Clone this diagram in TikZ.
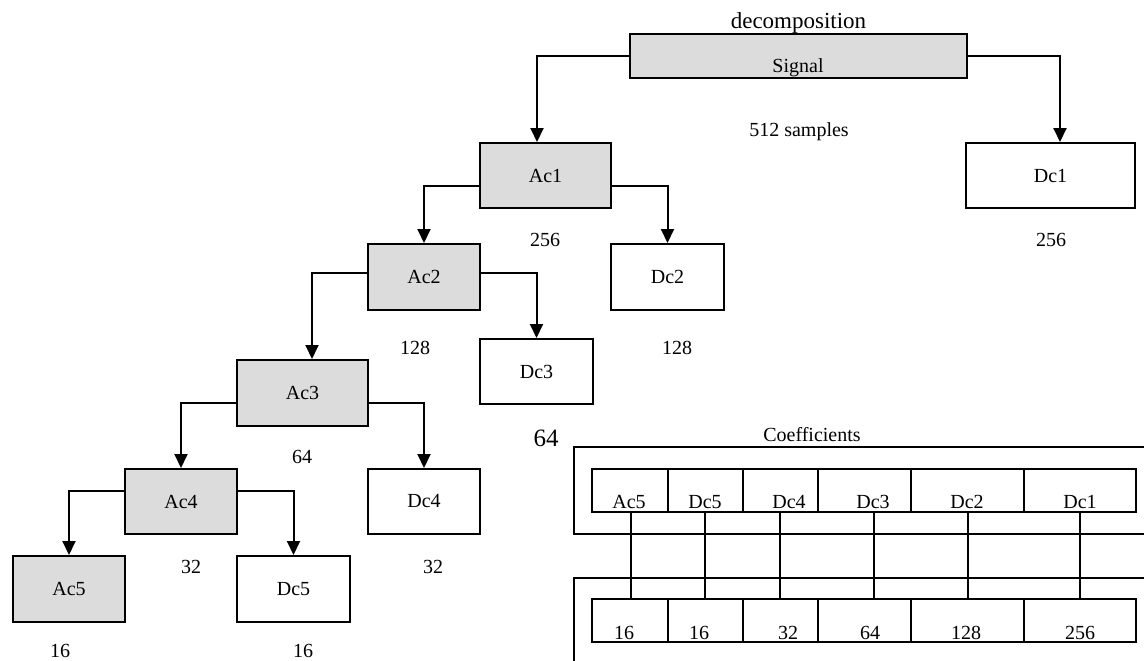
\documentclass[tikz,border=0pt]{standalone}
\usepackage{fontspec}
\setmainfont{Liberation Serif}
\usetikzlibrary{arrows.meta}
\definecolor{boxgray}{RGB}{220,220,220}
\begin{document}
\begin{tikzpicture}[x=1pt,y=-1pt,
  box/.style={draw=black, line width=2pt, inner sep=0pt, font=\fontsize{20}{24}\selectfont},
  gbox/.style={box, fill=boxgray},
  txt/.style={inner sep=0pt, font=\fontsize{20}{24}\selectfont},
  arr/.style={line width=2pt, -{Triangle[width=13pt,length=14pt]}},
  cell/.style={draw=black, line width=2pt, inner sep=0pt, minimum height=43pt},
  frameline/.style={line width=2pt},
  link/.style={line width=2pt}]
\useasboundingbox (0,0) rectangle (1144,661);

% tree boxes
\node[gbox, minimum width=337pt, minimum height=44pt] (sig) at (798.5,56) {};
\node[txt] (sigtxt) at (798,68) {Signal};
\node[txt, font=\fontsize{23}{27}\selectfont] (decomp) at (798.5,23) {decomposition};
\node[gbox, minimum width=131pt, minimum height=65pt] (Ac1) at (545.5,175.5) {Ac1};
\node[box, minimum width=169pt, minimum height=65pt] (Dc1) at (1050.5,175.5) {Dc1};
\node[gbox, minimum width=112pt, minimum height=66pt] (Ac2) at (424,277) {Ac2};
\node[box, minimum width=113pt, minimum height=66pt] (Dc2) at (667.5,277) {Dc2};
\node[gbox, minimum width=131pt, minimum height=66pt] (Ac3) at (302.5,393) {Ac3};
\node[box, minimum width=113pt, minimum height=65pt] (Dc3) at (536.5,371.5) {Dc3};
\node[gbox, minimum width=112pt, minimum height=65pt] (Ac4) at (181,501.5) {Ac4};
\node[box, minimum width=112pt, minimum height=65pt] (Dc4) at (424,501.5) {Dc4};
\node[gbox, minimum width=112pt, minimum height=66pt] (Ac5) at (69,589) {Ac5};
\node[box, minimum width=113pt, minimum height=66pt] (Dc5) at (293.5,589) {Dc5};

% tree connectors
\draw[arr] (sig.west) -| ([xshift=-8.5pt]Ac1.north);
\draw[arr] (sig.east) -| ([xshift=9.5pt]Dc1.north);
\draw[arr] ([yshift=-10.5pt]Ac1.west) -| (Ac2.north);
\draw[arr] ([yshift=-10.5pt]Ac1.east) -| (Dc2.north);
\draw[arr] ([yshift=4pt]Ac2.west) -| ([xshift=9.5pt]Ac3.north);
\draw[arr] ([yshift=4pt]Ac2.east) -| (Dc3.north);
\draw[arr] ([yshift=-10pt]Ac3.west) -| (Ac4.north);
\draw[arr] ([yshift=-10pt]Ac3.east) -| (Dc4.north);
\draw[arr] ([yshift=10.5pt]Ac4.west) -| (Ac5.north);
\draw[arr] ([yshift=10.5pt]Ac4.east) -| (Dc5.north);

% sample counts
\node[txt] (n512) at (799,132) {512 samples};
\node[txt] (nA1) at (545,240) {256};
\node[txt] (nD1) at (1051,240) {256};
\node[txt] (nA2) at (415,348) {128};
\node[txt] (nD2) at (677,348) {128};
\node[txt] (nA3) at (302,457) {64};
\node[txt, font=\fontsize{25}{30}\selectfont] (nD3) at (546,438) {64};
\node[txt] (nA4) at (191,567) {32};
\node[txt] (nD4) at (433,567) {32};
\node[txt] (nA5) at (60,651) {16};
\node[txt] (nD5) at (303,651) {16};

% coefficients
\node[txt] (coef) at (812,435) {Coefficients};
\draw[frameline] (1144,447) -| (574,534) -- (1144,534);
\draw[frameline] (1144,578) -| (574,661);

\node[cell, minimum width=76pt] (t1) at (630,490.5) {};
\node[cell, minimum width=75pt] (t2) at (705.5,490.5) {};
\node[cell, minimum width=75pt] (t3) at (780.5,490.5) {};
\node[cell, minimum width=93pt] (t4) at (864.5,490.5) {};
\node[cell, minimum width=113pt] (t5) at (967.5,490.5) {};
\node[cell, minimum width=112pt] (t6) at (1080,490.5) {};

\node[cell, minimum width=76pt] (b1) at (630,620.5) {};
\node[cell, minimum width=75pt] (b2) at (705.5,620.5) {};
\node[cell, minimum width=75pt] (b3) at (780.5,620.5) {};
\node[cell, minimum width=93pt] (b4) at (864.5,620.5) {};
\node[cell, minimum width=113pt] (b5) at (967.5,620.5) {};
\node[cell, minimum width=112pt] (b6) at (1080,620.5) {};

\node[txt, anchor=base] (lt1) at (629,508) {Ac5};
\node[txt, anchor=base] (lt2) at (705,508) {Dc5};
\node[txt, anchor=base] (lt3) at (789,508) {Dc4};
\node[txt, anchor=base] (lt4) at (873,508) {Dc3};
\node[txt, anchor=base] (lt5) at (967,508) {Dc2};
\node[txt, anchor=base] (lt6) at (1080,508) {Dc1};

\node[txt, anchor=base] (lb1) at (624,639) {16};
\node[txt, anchor=base] (lb2) at (699,639) {16};
\node[txt, anchor=base] (lb3) at (788,639) {32};
\node[txt, anchor=base] (lb4) at (870,639) {64};
\node[txt, anchor=base] (lb5) at (966,639) {128};
\node[txt, anchor=base] (lb6) at (1080,639) {256};

\draw[link] ([xshift=1pt]t1.south) -- ([xshift=1pt]b1.north);
\draw[link] ([xshift=-0.5pt]t2.south) -- ([xshift=-0.5pt]b2.north);
\draw[link] ([xshift=-0.5pt]t3.south) -- ([xshift=-0.5pt]b3.north);
\draw[link] ([xshift=9.5pt]t4.south) -- ([xshift=9.5pt]b4.north);
\draw[link] ([xshift=0.5pt]t5.south) -- ([xshift=0.5pt]b5.north);
\draw[link] (t6.south) -- (b6.north);
\end{tikzpicture}
\end{document}
